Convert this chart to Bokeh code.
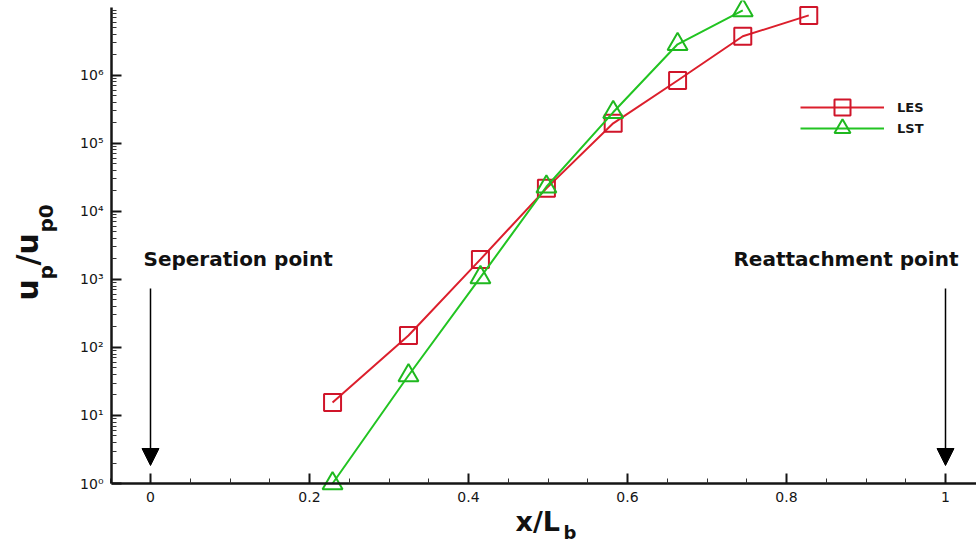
import numpy as np
from bokeh.plotting import figure
from bokeh.models import (Range1d, FixedTicker, CustomJSTickFormatter, Legend, LegendItem,
                          Label, Arrow, NormalHead, LinearAxis, LogAxis)
from bokeh.embed import file_html
from bokeh.resources import INLINE

# ---------------- data ----------------
les_x = [0.229, 0.3245, 0.415, 0.498, 0.582, 0.663, 0.745, 0.828]
les_y = [15.5, 150, 1970, 2.18e4, 1.97e5, 8.4e5, 3.75e6, 7.6e6]
lst_x = [0.229, 0.3245, 0.415, 0.498, 0.582, 0.663, 0.745]
lst_y = [1.0, 38.7, 1070, 2.3e4, 2.86e5, 2.86e6, 9.0e6]

x_ticks = [0, 0.2, 0.4, 0.6, 0.8, 1]
x_tick_labels = ["0", "0.2", "0.4", "0.6", "0.8", "1"]
y_ticks = [1, 10, 100, 1e3, 1e4, 1e5, 1e6]
y_tick_labels = ["10⁰", "10¹", "10²", "10³", "10⁴", "10⁵", "10⁶"]

sep_x = 0.0      # separation point
reatt_x = 1.0    # reattachment point

# ---------------- layout helpers (reference pixel -> data) ----------------
W, H = 976, 547
X0_PX, PX_PER_X = 150.0, 795.0
Y0_PX, PX_PER_DEC = 483.0, 68.03
AXIS_LEFT_PX = 111

def px2x(px):
    return (px - X0_PX) / PX_PER_X

def py2y(py):
    return 10 ** ((Y0_PX - py) / PX_PER_DEC)

RED = "#dc1f2c"
GREEN = "#22c422"
FONT = "DejaVu Sans"

# the frame covers the whole canvas; the axes are pinned at fixed data locations
p = figure(width=W, height=H,
           x_range=Range1d(px2x(0), px2x(W)),
           y_range=Range1d(py2y(H), py2y(0)),
           y_axis_type="log",
           x_axis_location=None, y_axis_location=None,
           output_backend="svg", toolbar_location=None,
           min_border=0)
p.outline_line_color = None
p.grid.visible = False
p.background_fill_color = "white"
p.border_fill_color = "white"

x_minor = [round(-0.05 + 0.05 * i, 3) for i in range(23)]
x_minor = [v for v in x_minor if all(abs(v - t) > 1e-9 for t in x_ticks)]
y_minor = [k * 10 ** n for n in range(0, 7) for k in range(2, 10)]

xaxis = LinearAxis(
    ticker=FixedTicker(ticks=x_ticks, minor_ticks=x_minor),
    formatter=CustomJSTickFormatter(args=dict(tvals=x_ticks, tlabels=x_tick_labels), code="""
        for (let i = 0; i < tvals.length; i++) { if (Math.abs(tick - tvals[i]) < 1e-9) return tlabels[i]; }
        return "";
    """),
    fixed_location=y_ticks[0], bounds=(px2x(AXIS_LEFT_PX), px2x(W)))
yaxis = LogAxis(
    ticker=FixedTicker(ticks=y_ticks, minor_ticks=y_minor),
    formatter=CustomJSTickFormatter(args=dict(tvals=y_ticks, tlabels=y_tick_labels), code="""
        for (let i = 0; i < tvals.length; i++) {
            if (Math.abs(Math.log10(tick) - Math.log10(tvals[i])) < 1e-6) return tlabels[i];
        }
        return "";
    """),
    fixed_location=px2x(AXIS_LEFT_PX), bounds=(1, 1e7))

for ax in (xaxis, yaxis):
    ax.axis_line_width = 2.5
    ax.axis_line_color = "#151515"
    ax.major_tick_in = 10
    ax.major_tick_out = 0
    ax.minor_tick_in = 5
    ax.minor_tick_out = 0
    ax.major_tick_line_width = 2
    ax.major_tick_line_color = "#151515"
    ax.minor_tick_line_width = 1
    ax.minor_tick_line_color = "#333333"
    ax.major_label_text_font = FONT
    ax.major_label_text_font_size = "14px"
    ax.major_label_text_color = "#151515"
    ax.major_label_standoff = 8
p.add_layout(xaxis, "below")
p.add_layout(yaxis, "left")

# ---------------- series ----------------
les_line = p.line(les_x, les_y, line_color=RED, line_width=2)
les_mark = p.scatter(les_x, les_y, marker="square", size=17, fill_color=None,
                     line_color="#d0152a", line_width=2)
lst_line = p.line(lst_x, lst_y, line_color=GREEN, line_width=2)
lst_mark = p.scatter(lst_x, lst_y, marker="triangle", size=20, fill_color=None,
                     line_color="#1fb81f", line_width=2)

# one legend per entry so the two rows can sit close together with large symbols
for label, rends, center_py in (("LES", [les_line, les_mark], 107),
                                ("LST", [lst_line, lst_mark], 128)):
    p.add_layout(Legend(items=[LegendItem(label=label, renderers=rends)],
                        location=(800, H - (center_py + 20)),
                        glyph_width=84, glyph_height=40,
                        padding=0, margin=0, label_standoff=13,
                        label_text_font=FONT, label_text_font_style="bold",
                        label_text_font_size="13px", label_text_color="#151515",
                        background_fill_alpha=0, border_line_alpha=0))

# ---------------- annotations ----------------
for xa in (sep_x, reatt_x):
    p.add_layout(Arrow(x_start=xa, y_start=py2y(288), x_end=xa, y_end=py2y(465),
                       line_color="black", line_width=1.5,
                       end=NormalHead(size=17, fill_color="black", line_color="black")))

def text_label(text, bx, by, size, angle=0.0, align="left"):
    return Label(x=px2x(bx), y=py2y(by), text=text, angle=angle,
                 text_font=FONT, text_font_style="bold", text_font_size=size,
                 text_color="#111111", text_align=align, text_baseline="alphabetic")

p.add_layout(text_label("Seperation point", 143, 258, "20px"))
p.add_layout(text_label("Reattachment point", 958, 258, "20px", align="right"))

# x-axis title: x/L_b
p.add_layout(text_label("x/L", 515, 521, "27px"))
p.add_layout(text_label("b", 563, 532, "18px"))

# y-axis title: u_p / u_p0 (rotated)
y_title_parts = [("u", 27, 300, "30px"), ("p", 45, 279, "20px"), ("/", 27, 265, "30px"),
                 ("u", 27, 254, "30px"), ("p0", 45, 232, "20px")]
for txt, bx, by, fs in y_title_parts:
    p.add_layout(text_label(txt, bx, by, fs, angle=np.pi / 2))

open("out.html", "w").write(file_html(p, INLINE))
